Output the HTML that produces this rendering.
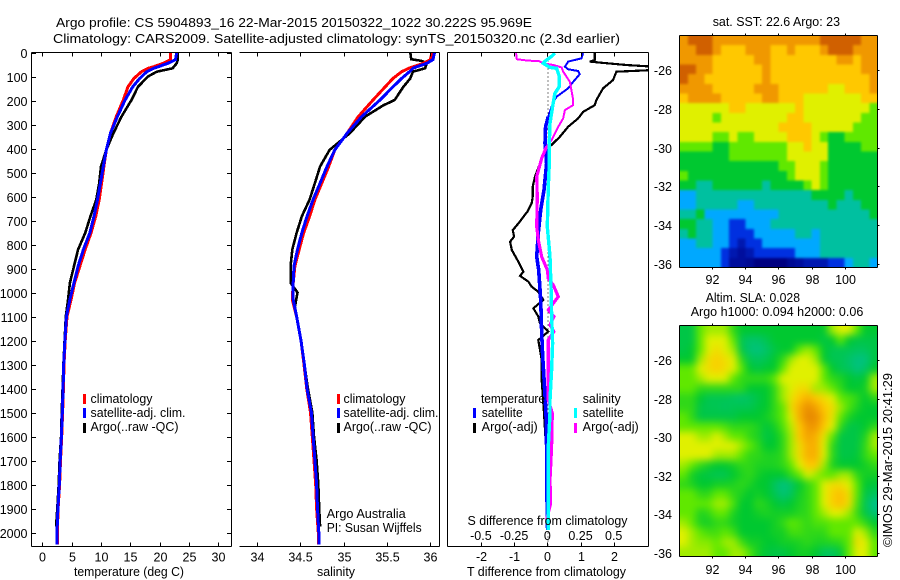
<!DOCTYPE html>
<html>
<head>
<meta charset="utf-8">
<title>Argo profile</title>
<style>
html,body{margin:0;padding:0;background:#fff;}
svg{display:block;}
text{font-family:"Liberation Sans",sans-serif;font-size:12.5px;fill:#000;}
</style>
</head>
<body>
<svg id="chart" width="900" height="580" viewBox="0 0 900 580" xmlns="http://www.w3.org/2000/svg">
  <defs>
    <clipPath id="clip-diff"><rect x="447.5" y="52.5" width="201" height="493.5"/></clipPath>
    <clipPath id="clip-sst"><rect x="679.5" y="35.5" width="198" height="232"/></clipPath>
    <clipPath id="clip-sla"><rect x="679.5" y="325.5" width="198" height="231"/></clipPath>
    <filter id="blur-sst" x="-10%" y="-10%" width="120%" height="120%" color-interpolation-filters="sRGB"><feGaussianBlur stdDeviation="1.3"/></filter>
    <filter id="blur-sla" x="-10%" y="-10%" width="120%" height="120%" color-interpolation-filters="sRGB"><feGaussianBlur stdDeviation="4"/></filter>
  </defs>
  <text x="56" y="27" textLength="476" lengthAdjust="spacingAndGlyphs">Argo profile: CS 5904893_16 22-Mar-2015 20150322_1022 30.222S 95.969E</text>
  <text x="53" y="43" textLength="567" lengthAdjust="spacingAndGlyphs">Climatology: CARS2009. Satellite-adjusted climatology: synTS_20150320.nc (2.3d earlier)</text>
  <g id="layer-maps"></g>
  <g id="layer-marks"></g>
  <g id="layer-axes"></g>

  <text x="74" y="576" textLength="110" lengthAdjust="spacingAndGlyphs">temperature (deg C)</text>
  <text x="317" y="576" textLength="38" lengthAdjust="spacingAndGlyphs">salinity</text>
  <text x="467" y="576" textLength="159" lengthAdjust="spacingAndGlyphs">T difference from climatology</text>
  <text x="467.5" y="525" textLength="160" lengthAdjust="spacingAndGlyphs">S difference from climatology</text>

  <g>
    <rect x="83" y="394" width="3" height="10" fill="#f00"/>
    <rect x="83" y="408" width="3" height="10" fill="#00f"/>
    <rect x="83" y="423" width="3" height="10" fill="#000"/>
    <text x="90.5" y="403" textLength="62" lengthAdjust="spacingAndGlyphs">climatology</text>
    <text x="90.5" y="417" textLength="95" lengthAdjust="spacingAndGlyphs">satellite-adj. clim.</text>
    <text x="90.5" y="431" textLength="88" lengthAdjust="spacingAndGlyphs">Argo(..raw -QC)</text>
  </g>
  <g>
    <rect x="337" y="394" width="3" height="10" fill="#f00"/>
    <rect x="337" y="408" width="3" height="10" fill="#00f"/>
    <rect x="337" y="423" width="3" height="10" fill="#000"/>
    <text x="343.5" y="403" textLength="62" lengthAdjust="spacingAndGlyphs">climatology</text>
    <text x="343.5" y="417" textLength="95" lengthAdjust="spacingAndGlyphs">satellite-adj. clim.</text>
    <text x="343.5" y="431" textLength="88" lengthAdjust="spacingAndGlyphs">Argo(..raw -QC)</text>
  </g>
  <text x="326.7" y="518" textLength="79" lengthAdjust="spacingAndGlyphs">Argo Australia</text>
  <text x="326.7" y="532" textLength="95" lengthAdjust="spacingAndGlyphs">PI: Susan Wijffels</text>
  <g>
    <text x="481" y="403" textLength="64" lengthAdjust="spacingAndGlyphs">temperature</text>
    <text x="582.7" y="403" textLength="38" lengthAdjust="spacingAndGlyphs">salinity</text>
    <rect x="473" y="408" width="3" height="10" fill="#00f"/>
    <rect x="473" y="423" width="3" height="10" fill="#000"/>
    <rect x="574" y="408" width="3" height="10" fill="#0ff"/>
    <rect x="574" y="423" width="3" height="10" fill="#f0f"/>
    <text x="481.7" y="417" textLength="41" lengthAdjust="spacingAndGlyphs">satellite</text>
    <text x="481.7" y="431" textLength="56" lengthAdjust="spacingAndGlyphs">Argo(-adj)</text>
    <text x="582.7" y="417" textLength="41" lengthAdjust="spacingAndGlyphs">satellite</text>
    <text x="582.7" y="431" textLength="56" lengthAdjust="spacingAndGlyphs">Argo(-adj)</text>
  </g>
  <text x="712.7" y="26" textLength="127.3" lengthAdjust="spacingAndGlyphs">sat. SST: 22.6 Argo: 23</text>
  <text x="705.7" y="302" textLength="94.3" lengthAdjust="spacingAndGlyphs">Altim. SLA: 0.028</text>
  <text x="690.7" y="316" textLength="172.6" lengthAdjust="spacingAndGlyphs">Argo h1000: 0.094 h2000: 0.06</text>
  <text transform="translate(892,547) rotate(-90)" x="0" y="0" textLength="174" lengthAdjust="spacingAndGlyphs">©IMOS 29-Mar-2015 20:41:29</text>
</svg>
<script>
// ---- profile data ----
const depths = [0,30,45,60,66,80,108,143,198,267,337,406,475,544,613,683,752,821,890,960,1029,1100,1200,1300,1400,1500,1600,1700,1800,1900,2000,2050];
const tempClim = [21.8,21.8,20.6,18.9,18,16.9,15.6,14.6,13.8,12.6,11.6,10.9,10.5,10.1,9.7,9.1,8.3,7.3,6.4,5.5,4.9,4.2,3.9,3.7,3.6,3.45,3.3,3.1,2.95,2.7,2.55,2.55];
const tempSat = [22.9,22.7,21.4,19.7,19,17.8,16.6,15.4,14.1,12.8,11.6,10.9,10.4,9.9,9.4,8.8,8.1,7,6.1,5.4,4.7,4.1,3.85,3.65,3.55,3.4,3.25,3.05,2.9,2.65,2.5,2.5];
const argoDepths = [0,30,45,66,80,100,143,198,267,337,406,475,544,613,683,752,821,890,960,1029,1100,1200,1300,1400,1500,1600,1700,1800,1900,1975];
const tempArgo = [23.1,23.1,22.9,22.2,19.5,18,16.3,15.2,13.5,12.1,10.9,10,9.7,9.2,8.2,7.3,6.1,5.4,4.7,4.4,4,3.8,3.6,3.45,3.3,3.2,2.95,2.8,2.55,2.35];
const salClim = [36.02,36,35.92,35.8,35.75,35.67,35.57,35.48,35.34,35.17,35.04,34.9,34.83,34.75,34.67,34.61,34.54,34.49,34.44,34.42,34.41,34.46,34.51,34.545,34.576,34.62,34.64,34.66,34.68,34.69,34.71,34.71];
const salSat = [36.05,36.03,35.96,35.84,35.8,35.76,35.67,35.57,35.42,35.21,35.04,34.9,34.81,34.73,34.65,34.58,34.52,34.47,34.43,34.42,34.42,34.46,34.51,34.55,34.58,34.63,34.65,34.67,34.69,34.7,34.715,34.715];
const salArgoDepths = [0,28,35,45,66,80,108,143,198,220,267,337,406,475,544,613,683,752,821,890,960,1000,1060,1100,1200,1300,1400,1500,1600,1700,1800,1900,1975];
const salArgo = [35.77,35.78,35.9,35.96,35.94,35.8,35.77,35.69,35.59,35.46,35.25,35.07,34.84,34.73,34.67,34.61,34.52,34.46,34.41,34.39,34.39,34.47,34.44,34.46,34.51,34.55,34.59,34.64,34.66,34.69,34.71,34.72,34.73];

// ---- difference panel data ----
const diffTDepths = [3,24,38,59,70,77,90,122,149,184,205,267,309,378,462,573,656,753,851,906,1031,1170,1267,1378,1503,1642,1781,1920,1990];
const diffTSat = [1.08,1.03,0.63,0.53,0.63,0.93,0.98,0.78,0.63,0.28,0.18,0.03,-0.05,-0.07,-0.02,-0.1,-0.2,-0.27,-0.32,-0.26,-0.2,-0.17,-0.14,-0.09,-0.04,-0.02,-0.02,0,0.01];
const diffTArgoDepths = [3,31,38,42,52,59,73,80,115,149,198,219,247,274,309,351,385,406,462,517,559,601,628,663,712,740,767,788,823,872,913,931,955,976,997,1031,1066,1100,1128,1163,1198,1281,1365,1503,1642,1781,1920];
const diffTArgo = [1.43,1.43,1.28,1.58,2.38,3.2,3.2,2.08,1.98,1.68,1.48,1.43,1.08,0.93,0.63,0.38,0.13,-0.07,-0.22,-0.37,-0.44,-0.44,-0.47,-0.6,-0.87,-1.04,-1,-1.12,-1.07,-0.87,-0.72,-0.82,-0.57,-0.47,-0.27,-0.12,-0.42,-0.27,-0.22,0.03,-0.27,-0.17,-0.17,-0.1,-0.04,-0.04,-0.02];
const diffSSatDepths = [3,17,38,45,62,66,100,142,170,226,295,378,462,559,726,851,976,1087,1212,1323,1448,1503,1642,1781,1920,1990];
const diffSSat = [0.0575,0.03,-0.02,-0.03,0.02,0.07,0.09,0.09,0.0575,0.04,0.02,0.015,0.015,0.0075,0,0.02,0.0275,0.0325,0.04,0.0325,0.02,0.02,0.0075,0.0075,0.0075,0.0075];
const diffSArgoDepths = [3,28,34,35,45,52,62,80,122,198,219,240,274,309,365,392,441,517,601,725,781,851,906,941,969,1017,1045,1073,1100,1135,1163,1198,1448,1503,1642,1781,1878,1948];
const diffSArgo = [-0.235,-0.23,-0.1425,-0.0675,-0.03,0.045,0.1075,0.12,0.17,0.195,0.195,0.1325,0.12,0.0825,0.0325,-0.005,-0.0425,-0.08,-0.075,-0.08,-0.0675,-0.0425,0,0.0075,0.045,0.0825,0.045,0.0075,0.05,0.02,0.05,0.0075,0.0075,0.0375,0.0325,0.02,0.025,-0.005];

// ---- tick labels ----
const depthTicks = [0,100,200,300,400,500,600,700,800,900,1000,1100,1200,1300,1400,1500,1600,1700,1800,1900,2000];
const tempTicks = [0,5,10,15,20,25,30];
const salTicks = ['34','34.5','35','35.5','36'];
const diffTTicks = ['-2','-1','0','1','2'];
const diffSTicks = ['-0.5','-0.25','0','0.25','0.5'];
const lonTicks = [92,94,96,98,100];
const latTicks = [-26,-28,-30,-32,-34,-36];

// ---- heatmap data (colour level per cell, north to south) ----
const sstGrid = [
[8,9,9,9,8,8,8,8,8,8,8,8,8,8,8,8,8,9,9,9,9,9,8,8],
[8,8,9,9,8,7,7,7,8,8,8,7,7,8,7,7,7,8,9,9,9,8,8,8],
[8,8,8,8,7,7,7,7,7,8,8,7,7,7,7,7,7,7,7,8,8,7,8,8],
[9,9,8,8,7,7,7,7,7,7,8,7,7,7,7,7,7,7,7,7,7,7,8,8],
[9,8,8,7,7,7,7,7,7,7,8,7,7,7,7,7,7,7,7,7,7,7,7,8],
[8,8,8,8,7,7,7,7,7,8,8,8,7,7,7,7,7,7,6,6,7,7,7,8],
[7,8,8,8,8,7,7,7,7,7,8,8,7,7,7,6,6,6,6,6,6,6,7,7],
[6,6,6,6,6,6,7,7,6,6,6,6,6,6,7,6,6,6,6,6,6,6,6,5],
[6,6,6,6,5,6,6,6,6,6,6,6,6,7,7,6,6,6,6,6,6,6,5,5],
[6,6,6,6,6,6,6,6,6,6,6,6,7,7,7,7,6,6,6,6,6,5,5,5],
[6,6,6,6,5,5,6,5,5,6,6,6,6,7,7,7,6,5,4,4,5,5,5,5],
[5,5,5,5,4,4,5,5,5,5,5,5,5,6,6,7,6,6,4,4,4,4,5,5],
[4,4,4,4,4,4,5,5,5,5,5,5,5,6,6,6,6,6,4,4,4,4,4,4],
[4,4,4,4,4,4,4,4,4,4,4,4,5,5,6,6,6,5,4,4,4,4,4,4],
[5,4,4,4,4,4,4,4,4,4,4,4,4,5,6,6,6,5,4,4,4,4,4,4],
[4,4,3,3,4,4,4,4,4,4,3,4,4,4,4,5,6,5,4,4,4,4,4,4],
[2,2,3,3,3,3,3,3,3,3,3,3,3,3,3,3,4,4,4,4,3,4,4,4],
[2,2,3,3,3,3,3,2,2,3,3,3,3,3,3,3,3,3,4,3,3,3,4,4],
[3,3,4,2,2,2,2,2,2,2,2,2,3,3,3,3,3,3,3,3,3,3,3,4],
[4,4,3,3,2,2,1,1,2,2,2,3,3,3,3,3,3,3,3,3,3,3,3,3],
[3,4,3,3,2,2,1,1,1,2,2,2,2,2,3,3,2,3,3,3,3,3,3,3],
[2,2,3,3,2,2,1,0.5,1,1,2,2,2,2,2,2,2,3,3,3,3,3,3,3],
[2,2,2,2,2,1,0.5,0.3,0.5,1,1,1,1,1,2,2,2,3,3,3,3,3,3,3],
[2,2,2,2,2,1,0.3,0.3,0.2,0,0,0,0,0.2,0.3,0.5,0.5,0.5,1,1,2,3,3,2]
];
const slaGrid = [
[3.8,3.8,5,5.5,5.5,5.5,4.5,4,4,4,4,4,4,4,4,4,4,4,5.5,6,6,5,4,4],
[3.8,3.8,5,6,6,6,5,3.7,3.5,3.5,3.7,4,4,4,4,4,4,3.8,4,5,4,3.8,3.8,3.8],
[3.8,4,5,6,6.5,6,5.5,3.8,3.4,3.3,3.5,3.8,4,4,5,5.5,5,4,3.7,3.7,3.7,3.6,3.6,3.8],
[4,4,5.5,6.5,6.8,6.5,6,4.5,3.7,3.6,3.7,4,4.5,5.5,6,6,5.5,4,3.7,3.7,3.5,3.3,3.3,3.8],
[5,5,6,6.5,6.8,6.5,6,5,4,3.8,4,4,5,6,6,6,6,5,4,3.7,3.6,3.3,3.5,4],
[5,5,5.5,6,6,6,5,4.5,4.5,4.5,4.5,5,6,6,6,6,6,5,4.5,4.3,4,3.8,4,5.5],
[5,5,4.5,4.5,4.5,4.5,4.5,4.5,4,4,4,4.5,5.5,6,6.5,6.5,5.5,5.5,5,4.5,4,4,4.2,5.5],
[4.5,4.5,4,3.7,3.7,3.7,3.6,3.5,3.6,3.8,4,4.5,5.5,6.3,7,7.5,7,6.5,6,5,4.8,4.5,4,4.5],
[4.5,4.5,3.8,3.7,3.7,3.6,3.7,3.7,3.7,3.9,4,4.5,5,6.5,7.5,8.2,7.8,7,6.5,5.5,4.8,4.3,4,4],
[5,4.5,3.8,3.8,3.8,3.8,3.8,4,4,4,4.2,4.5,5,6,7.5,8.3,8.2,7.3,6.3,5,4.3,4,4,4],
[5,5,5,5,5,4.8,4.5,4.5,4.5,4.3,3.9,4.2,4.8,5.7,7,8,8,7,6,4.5,3.8,3.8,4,4.5],
[6,6,5.5,5.5,6,5.5,5,5,4.5,4.3,3.8,4,4.5,5.5,7,7.8,7.5,6.3,5,3.8,3.8,3.8,4.3,5.5],
[6,6,6,6,6,6,6,5.5,5,4.5,4,4,4.5,5.5,6.5,7.5,7.5,6,4.5,3.8,3.8,3.8,4.5,5.5],
[6,6,6,6,5.5,5.5,5.5,5,4.5,4.5,4.3,4.3,4.5,5.5,6.5,7.5,7.5,6,4.5,3.8,3.8,3.9,4.5,5],
[5.5,5,4.5,4.2,4,4,4.2,4.5,4.5,4.3,4.3,4.3,4.5,5,6,7,7,5.5,4.3,4,4,4,4.2,4.5],
[5,4.2,3.9,3.8,3.7,3.7,4,4.3,4.5,4.2,4,4,4,4.5,5,6,5.5,5,5,5.5,5.5,4.5,4.2,4.2],
[4.5,4.3,4,4,4.2,4.2,4.3,4.5,4.3,4,4,3.6,3.3,3.5,4,4.5,5,6,6.5,6.5,6,5,4,3.9],
[5,5,4.5,4.5,5,5,4.5,4.3,4,4.2,4,3.7,3.4,3.6,4.2,4.5,5,6,6.8,7.2,6.5,5,3.8,3.6],
[5,5,5,5,5.5,5.5,4.8,4,4,4.5,4.3,4,3.8,4,4.3,4.5,5,6,6.8,7.2,6.5,4.8,3.7,3.2],
[5,5,4.3,4.5,5,5,4.3,4,4,4.2,4.3,4.2,4.2,4.2,4.4,4.5,5,5.5,6,6,5.5,4.6,3.8,3.4],
[5.5,5,4.3,4.2,4.5,4.5,4.2,4,4,4,4,4.2,4.5,5,4.8,4.5,4.8,4.8,5,5,5,5,4.5,4],
[6,5.5,5,4.7,4.7,5,4.7,4,4,4,4,4.2,4.2,4.7,4.7,4.5,4.5,4.5,5,5,5,6,5.5,4.5],
[6,5.5,5.3,5.3,5,5.5,5.5,4.7,4.2,4.2,4,4,4.2,4.2,4.3,4.5,4.3,4.3,4.4,4.5,5,6.5,6,5],
[5.5,5.5,5.5,5.5,5,5,5.5,5.5,4.8,4.2,3.9,3.8,3.8,4,4.2,4.2,4,3.6,3.6,3.9,5,6,6,5]
];

// ---- scales ----
const yDepth = d => 52.5 + 0.24 * d;
const xTemp = t => 42.3 + 5.87 * t;
const xSal = s => 256.7 + 86.8 * (s - 34);
const xDiffT = t => 547.3 + 33.2 * t;
const xDiffS = s => 547.3 + 132.8 * s;
const xLon = l => 711.7 + 16.67 * (l - 92);
const yLatSst = l => 70 + 19.4 * (-26 - l);
const yLatSla = l => 360 + 19.3 * (-26 - l);

const NS = 'http://www.w3.org/2000/svg';
const maps = document.getElementById('layer-maps');
const marks = document.getElementById('layer-marks');
const axes = document.getElementById('layer-axes');

function mk(parent, tag, attrs) {
  const el = document.createElementNS(NS, tag);
  for (const k in attrs) el.setAttribute(k, attrs[k]);
  parent.appendChild(el);
  return el;
}

function poly(name, pts, color, width, clip) {
  const attrs = {points: pts.join(' '), fill: 'none', stroke: color, 'stroke-width': width, 'shape-rendering': 'crispEdges'};
  if (clip) attrs['clip-path'] = 'url(#clip-diff)';
  const el = mk(marks, 'polyline', attrs);
  
  
}

// Lines in the source thicken in the deep, densely sampled part of the profile.
function drawProfile(name, ds, vs, xf, color, width, clip, splitDepth, deepWidth) {
  const pts = vs.map((v, i) => xf(v).toFixed(1) + ',' + yDepth(ds[i]).toFixed(1));
  if (splitDepth === undefined) {
    poly(name, pts, color, width, clip);
    return;
  }
  const k = ds.findIndex(d => d >= splitDepth);
  poly(name + '-upper', pts.slice(0, k + 1), color, width, clip);
  poly(name + '-lower', pts.slice(k), color, deepWidth, clip);
}

drawProfile('temperature-argo-line', argoDepths, tempArgo, xTemp, '#000', 2.6);
drawProfile('temperature-climatology-line', depths, tempClim, xTemp, '#f00', 3);
drawProfile('temperature-satellite-line', depths, tempSat, xTemp, '#00f', 3);
drawProfile('salinity-argo-line', salArgoDepths, salArgo, xSal, '#000', 2.6);
drawProfile('salinity-climatology-line', depths, salClim, xSal, '#f00', 3);
drawProfile('salinity-satellite-line', depths, salSat, xSal, '#00f', 3);

const zero = mk(marks, 'line', {x1: 548, x2: 548, y1: 52.5, y2: 546, stroke: '#000', 'stroke-width': 1, 'stroke-dasharray': '1 3'});



drawProfile('t-diff-argo-line', diffTArgoDepths, diffTArgo, xDiffT, '#000', 2.2, true);
drawProfile('t-diff-satellite-line', diffTDepths, diffTSat, xDiffT, '#00f', 2, true, 267, 3.6);
drawProfile('s-diff-argo-line', diffSArgoDepths, diffSArgo, xDiffS, '#f0f', 2, true, 392, 3.2);
drawProfile('s-diff-satellite-line', diffSSatDepths, diffSSat, xDiffS, '#0ff', 3.4, true);

// ---- axes ----
function hline(x1, x2, y) { mk(axes, 'line', {x1: x1, x2: x2, y1: y, y2: y, stroke: '#000', 'stroke-width': 1, 'shape-rendering': 'crispEdges'}); }
function vline(x, y1, y2) { mk(axes, 'line', {x1: x, x2: x, y1: y1, y2: y2, stroke: '#000', 'stroke-width': 1, 'shape-rendering': 'crispEdges'}); }
function label(str, x, y, anchor, name) {
  const t = mk(axes, 'text', {x: x, y: y, 'text-anchor': anchor});
  t.textContent = str;
  
  
}

const T = 52.5, B = 546.5;
// temperature frame
hline(31.5, 231.5, T); hline(31.5, 231.5, B); vline(31.5, T, B); vline(231.5, T, B);
// salinity frame (no left spine)
hline(239.5, 439.5, T); hline(239.5, 439.5, B); vline(439.5, T, B);
// difference frame
hline(447.5, 648.5, T); hline(447.5, 648.5, B); vline(447.5, T, B); vline(648.5, T, B);

depthTicks.forEach(d => {
  const y = Math.round(yDepth(d)) + 0.5;
  hline(31.5, 36, y);
  hline(227, 231.5, y);
  label(String(d), 27.5, y + 4.5, 'end', 'depth-tick-label');
});
tempTicks.forEach(t => {
  const x = Math.round(xTemp(t)) + 0.5;
  vline(x, T, T + 4); vline(x, B - 4, B);
  label(String(t), x, 561.5, 'middle', 'temperature-tick-label');
});
salTicks.forEach(s => {
  const x = Math.round(xSal(parseFloat(s))) + 0.5;
  vline(x, T, T + 4); vline(x, B - 4, B);
  label(s, x, 561.5, 'middle', 'salinity-tick-label');
});
diffTTicks.forEach(t => {
  const x = Math.round(xDiffT(parseFloat(t))) + 0.5;
  vline(x, T, T + 4); vline(x, B - 4, B);
  label(t, x, 561, 'middle', 't-difference-tick-label');
});
diffSTicks.forEach(s => {
  label(s, xDiffS(parseFloat(s)), 540, 'middle', 's-difference-tick-label');
});

// ---- heatmaps ----
const stops = ['#000080','#0030e0','#00a8ff','#00c0a0','#00c830','#60e800','#e0f000','#ffc800','#f09800','#d06000'];
function hex(c) { return [1, 3, 5].map(i => parseInt(c.substr(i, 2), 16)); }
function colour(v) {
  const k = Math.max(0, Math.min(stops.length - 1.001, v));
  const i = Math.floor(k), f = k - i, a = hex(stops[i]), b = hex(stops[i + 1]);
  return 'rgb(' + a.map((c, j) => Math.round(c + (b[j] - c) * f)).join(',') + ')';
}
function drawMap(grid, name, x0, x1, y0, y1, yLat, lonY, clipId, blurId) {
  const wrap = mk(maps, 'g', {'clip-path': 'url(#' + clipId + ')'});
  
  
  const g = mk(wrap, 'g', {filter: 'url(#' + blurId + ')'});
  const ch = (y1 - y0) / grid.length;
  const pad = 14; // outer cells run past the frame so the blur has no white fringe
  grid.forEach((row, r) => {
    const cw = (x1 - x0) / row.length;
    row.forEach((v, c) => {
      const left = c === 0 ? pad : 0, right = c === row.length - 1 ? pad : 0;
      const top = r === 0 ? pad : 0, bottom = r === grid.length - 1 ? pad : 0;
      const cell = mk(g, 'rect', {
        x: (x0 + c * cw - left).toFixed(2),
        y: (y0 + r * ch - top).toFixed(2),
        width: (cw + 0.5 + left + right).toFixed(2),
        height: (ch + 0.5 + top + bottom).toFixed(2),
        fill: colour(v),
        'shape-rendering': 'crispEdges'
      });
      
      
    });
  });
  hline(x0, x1, y0); hline(x0, x1, y1); vline(x0, y0, y1); vline(x1, y0, y1);
  lonTicks.forEach(l => {
    const x = Math.round(xLon(l)) + 0.5;
    vline(x, y0 - 2, y0); vline(x, y1, y1 + 2);
    label(String(l), x, lonY, 'middle', 'longitude-tick-label');
  });
  latTicks.forEach(l => {
    const y = Math.round(yLat(l)) + 0.5;
    hline(x1, x1 + 2, y);
    label(String(l), 672, y + 4.5, 'end', 'latitude-tick-label');
  });
}
drawMap(sstGrid, 'sst-map', 679.5, 877.5, 35.5, 267.5, yLatSst, 284, 'clip-sst', 'blur-sst');
drawMap(slaGrid, 'sla-map', 679.5, 877.5, 325.5, 556.5, yLatSla, 574, 'clip-sla', 'blur-sla');
</script>
</body>
</html>
